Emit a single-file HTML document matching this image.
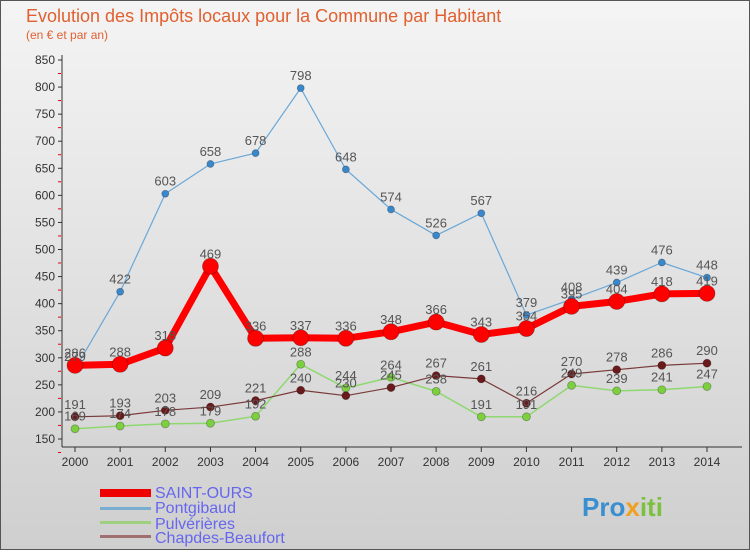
<!DOCTYPE html>
<html><head><meta charset="utf-8"><style>
body{margin:0;width:750px;height:550px;overflow:hidden;font-family:"Liberation Sans",sans-serif}
</style></head><body>
<svg width="750" height="550" xmlns="http://www.w3.org/2000/svg" id="svg">
<defs><linearGradient id="bg" x1="0" y1="0" x2="0" y2="1"><stop offset="0" stop-color="#f4f4f4"/><stop offset="1" stop-color="#cfcfcf"/></linearGradient></defs>
<rect x="0.5" y="0.5" width="749" height="549" fill="url(#bg)" stroke="#555"/>
<text x="26" y="22" font-size="18" fill="#e06030">Evolution des Impôts locaux pour la Commune par Habitant</text>
<text x="26" y="39" font-size="12" fill="#e06030">(en € et par an)</text>
<g id="axes"></g><g id="series"></g><g id="labels"></g>
<g font-size="16" fill="#6666ee">
<rect x="100" y="489" width="51" height="8" fill="#e00"/><text x="155" y="498">SAINT-OURS</text>
<rect x="100" y="507" width="51" height="3" fill="#7aaed0"/><text x="155" y="513">Pontgibaud</text>
<rect x="100" y="521" width="51" height="3" fill="#9fd080"/><text x="155" y="529">Pulvérières</text>
<rect x="100" y="535" width="51" height="3" fill="#a07070"/><text x="155" y="543">Chapdes-Beaufort</text>
</g>
<text x="582" y="516" font-size="26" font-weight="bold" fill="#3a8fd0">Pro<tspan fill="#f0a020">x</tspan><tspan fill="#7cc040">iti</tspan></text>
</svg>
<script>
const years=[2000,2001,2002,2003,2004,2005,2006,2007,2008,2009,2010,2011,2012,2013,2014];
const saintOurs=[286,288,318,469,336,337,336,348,366,343,354,395,404,418,419];
const pontgibaud=[279,422,603,658,678,798,648,574,526,567,379,408,439,476,448];
const pulverieres=[169,174,178,179,192,288,244,264,238,191,191,249,239,241,247];
const chapdes=[191,193,203,209,221,240,230,245,267,261,216,270,278,286,290];
const yTicks=[150,200,250,300,350,400,450,500,550,600,650,700,750,800,850];
const NS="http://www.w3.org/2000/svg";
const xs=i=>75+i*(707-75)/14, ys=v=>439-(v-150)*(439-60)/700;
function mk(t,a,p){const e=document.createElementNS(NS,t);for(const k in a)e.setAttribute(k,a[k]);p.appendChild(e);return e;}
const ax=document.getElementById('axes'),sg=document.getElementById('series'),lg=document.getElementById('labels');
const yl=mk('line',{x1:62,y1:55,x2:62,y2:447,stroke:'#333'},ax);

const xl=mk('line',{x1:62,y1:447,x2:742,y2:447,stroke:'#333'},ax);

yTicks.forEach(v=>{const y=ys(v);
 mk('line',{x1:58,y1:y,x2:62,y2:y,stroke:'#333'},ax);
 mk('line',{x1:58,y1:y+13.5,x2:61,y2:y+13.5,stroke:'#e00'},ax);
 const t=mk('text',{x:55,y:y+4,'font-size':12,'text-anchor':'end',fill:'#333'},ax);t.textContent=v;
 });
years.forEach((yr,i)=>{const x=xs(i);mk('line',{x1:x,y1:447,x2:x,y2:452,stroke:'#333'},ax);
 const t=mk('text',{x:x,y:466,'font-size':12,'text-anchor':'middle',fill:'#333'},ax);t.textContent=yr;
 });
function series(name,data,color,w,r,mcol){
 const g=mk('g',{},sg);
 mk('polyline',{points:data.map((v,i)=>xs(i)+','+ys(v)).join(' '),fill:'none',stroke:color,'stroke-width':w,'stroke-linejoin':'round'},g);
 data.forEach((v,i)=>{const c=mk('circle',{cx:xs(i),cy:ys(v),r:r,fill:mcol,stroke:'rgba(0,0,0,0.3)','stroke-width':0.8},g);
  
  const t=mk('text',{x:xs(i),y:ys(v)-8,'font-size':13,'text-anchor':'middle',fill:'#555'},lg);t.textContent=v;
  });
}
series('pontgibaud',pontgibaud,'#6aa8d8',1.2,3.5,'#3a88cc');
series('pulverieres',pulverieres,'#8fd870',1.5,4,'#7cd040');
series('chapdes-beaufort',chapdes,'#7a3a3a',1.2,4,'#6a1a1a');
series('saint-ours',saintOurs,'#f00',7,8,'#f00');
</script>
</body></html>
